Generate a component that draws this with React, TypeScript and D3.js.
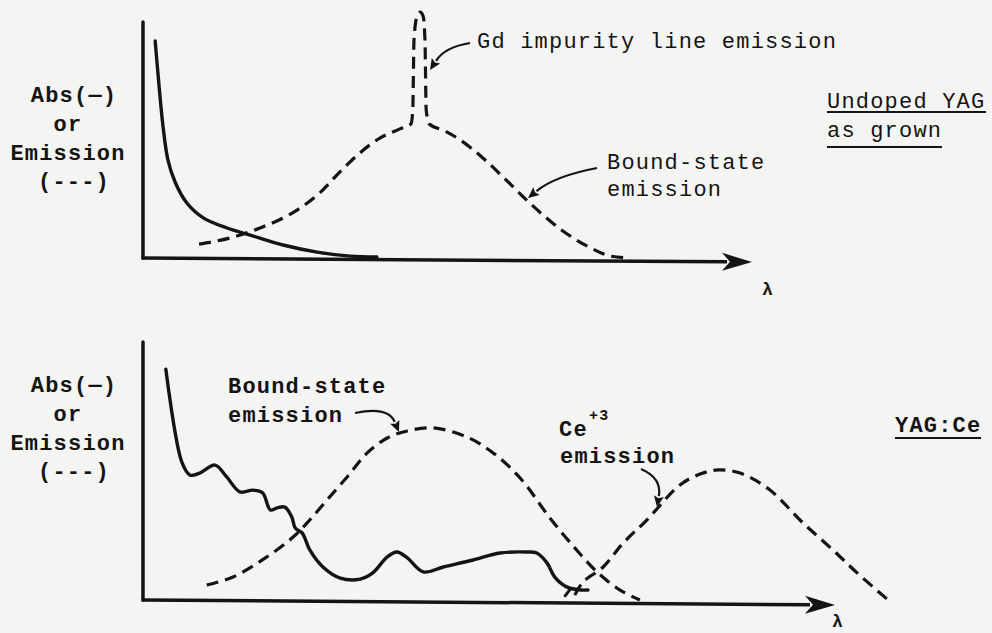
import * as d3 from "d3";

// Schematic spectra, arbitrary units: x = wavelength (0..100 along the axis), y = intensity (0..100)

// Undoped YAG, as grown
const topAbs: [number, number][] = [
  [2, 92], [2.6, 74], [3.3, 55.5], [4.1, 41.5], [5.3, 32], [7.2, 23.3], [9.9, 17],
  [13.8, 12.7], [17.6, 9.7], [23, 5.5], [28.6, 2.5], [34, 0.8], [38.4, 0.4],
];
const topEmission: [number, number][] = [
  [9.2, 5.9], [14.3, 8.5], [19.2, 12.7], [25.3, 20.3], [29, 27.5], [32.3, 36.4], [35.6, 44.5],
  [38.9, 50.8], [42.2, 54.7], [44, 56.8], [44.3, 62.7], [44.5, 92.4], [45, 102.5], [45.5, 104.2],
  [46, 102.5], [46.3, 92.4], [46.5, 62.7], [47, 56.8], [49.6, 53.8], [52.1, 50], [55.8, 42.4],
  [59.6, 33.1], [63.5, 23.3], [68.5, 12.3], [73.2, 4.7], [76.8, 0.8], [80, 0],
];

// YAG:Ce
const botAbs: [number, number][] = [
  [3.3, 89.5], [5.6, 53.5], [6.8, 48.4], [8.2, 49.2], [10.4, 52.3], [12.1, 47.7], [14, 41.9],
  [15.9, 42.6], [17.3, 41.5], [18.4, 34.9], [19.4, 35.7], [20.5, 36], [21.5, 32.2], [22, 27.9],
  [23, 26], [24.1, 19.4], [26, 12.8], [28.5, 8.5], [31.4, 8.1], [33.2, 10.5], [35.3, 16.7],
  [36.7, 18.6], [38.2, 16.3], [40.5, 10.9], [43.4, 12.8], [47.7, 15.5], [51.6, 18.2],
  [55.5, 18.6], [56.9, 18.2], [58.4, 14.3], [59.5, 8.9], [61.3, 5], [63.2, 3.9], [64.3, 3.9],
];
const botAbsHook: [number, number][] = [[61.8, 4.4], [61.0, 1.6]];
const botBound: [number, number][] = [
  [9.2, 5.8], [13, 8.9], [17.9, 16.7], [21.7, 24.4], [24.1, 31], [26.6, 38.8], [29.5, 47.7],
  [32.4, 57], [35.3, 62.8], [38.2, 65.5], [41.9, 66.7], [46.8, 63.2], [50.6, 57], [54.5, 47.3],
  [58.8, 31.8], [62.4, 20.2], [65.6, 10.9], [68.9, 3.9], [71.8, 0],
];
const botCe: [number, number][] = [
  [62.4, 1.9], [63.6, 7], [66.5, 12.8], [69.4, 22.1], [72.8, 31], [77.6, 44.6], [80.5, 48.8],
  [83.1, 50.4], [86.3, 49.2], [90.6, 42.6], [95.4, 29.8], [99.7, 19.4], [103.2, 10.5], [107.5, 0.4],
];

const W = 992;
const H = 633;
const INK = "#141414";
const MONO = "'Liberation Mono', 'DejaVu Sans Mono', monospace";

const xTop = d3.scaleLinear().domain([0, 100]).range([143, 752]);
const yTop = d3.scaleLinear().domain([0, 100]).range([258, 22]);
const xBot = d3.scaleLinear().domain([0, 100]).range([143, 835]);
const yBot = d3.scaleLinear().domain([0, 100]).range([600, 342]);

function Label({ x, y, children, anchor = "start", bold = false, size = 22 }: any) {
  return (
    <text x={x} y={y} textAnchor={anchor} dominantBaseline="central" fontFamily={MONO}
      fontSize={size} fontWeight={bold ? "bold" : "normal"} letterSpacing={1.2} fill={INK}>
      {children}
    </text>
  );
}

// curved pointer with a filled head, direction taken from control point -> tip
function Pointer({ from, ctrl, to }: { from: number[]; ctrl: number[]; to: number[] }) {
  const ang = Math.atan2(to[1] - ctrl[1], to[0] - ctrl[0]);
  const L = 11, Wd = 5;
  const bx = to[0] - L * Math.cos(ang), by = to[1] - L * Math.sin(ang);
  const px = -Math.sin(ang) * Wd, py = Math.cos(ang) * Wd;
  return (
    <g>
      <path d={`M${from[0]},${from[1]} Q${ctrl[0]},${ctrl[1]} ${bx},${by}`} fill="none" stroke={INK} strokeWidth={2.2} />
      <path d={`M${to[0]},${to[1]} L${bx + px},${by + py} L${bx + 2 * Math.cos(ang)},${by + 2 * Math.sin(ang)} L${bx - px},${by - py} Z`} fill={INK} />
    </g>
  );
}

function AxisArrow({ x0, y0, x1, y1 }: { x0: number; y0: number; x1: number; y1: number }) {
  const ang = Math.atan2(y1 - y0, x1 - x0);
  const L = 30, Wd = 9;
  const bx = x1 - L * Math.cos(ang), by = y1 - L * Math.sin(ang);
  const px = -Math.sin(ang) * Wd, py = Math.cos(ang) * Wd;
  return (
    <g>
      <line x1={x0} y1={y0} x2={bx + 5} y2={by} stroke={INK} strokeWidth={3.5} />
      <path d={`M${x1},${y1} L${bx + px},${by + py} L${bx + 8 * Math.cos(ang)},${by + 8 * Math.sin(ang)} L${bx - px},${by - py} Z`} fill={INK} />
    </g>
  );
}

function YLabel({ cy }: { cy: number }) {
  return (
    <g>
      <Label x={74} y={cy} anchor="middle" bold>Abs(—)</Label>
      <Label x={68} y={cy + 29} anchor="middle" bold>or</Label>
      <Label x={68} y={cy + 58} anchor="middle" bold>Emission</Label>
      <Label x={74} y={cy + 86} anchor="middle" bold>(---)</Label>
    </g>
  );
}

export default function App() {
  const lineTop = d3.line<[number, number]>().x(d => xTop(d[0])).y(d => yTop(d[1]));
  const lineBot = d3.line<[number, number]>().x(d => xBot(d[0])).y(d => yBot(d[1]));
  const smooth = d3.curveCatmullRom.alpha(0.5);
  const dash = "12 7";

  return (
    <div style={{ position: "fixed", inset: 0, background: "#f4f4f2" }}>
      <svg width={W} height={H} style={{ display: "block" }}>
        <rect width={W} height={H} fill="#f4f4f2" />

        {/* ---------- top panel ---------- */}
        <line x1={xTop(0)} y1={yTop(0)} x2={xTop(0)} y2={yTop(100)} stroke={INK} strokeWidth={3.5} strokeLinecap="round" />
        <AxisArrow x0={xTop(0) - 1.5} y0={yTop(0)} x1={xTop(100)} y1={yTop(0) + 4} />
        <path d={lineTop.curve(smooth)(topAbs) ?? ""} fill="none" stroke={INK} strokeWidth={3.4} strokeLinecap="round" />
        <path d={lineTop.curve(d3.curveMonotoneX)(topEmission) ?? ""} fill="none" stroke={INK} strokeWidth={3.2} strokeDasharray={dash} />

        <YLabel cy={96} />
        <Label x={477} y={42}>Gd impurity line emission</Label>
        <Pointer from={[470, 43]} ctrl={[445, 47]} to={[430, 70]} />
        <Label x={607} y={163}>Bound-state</Label>
        <Label x={607} y={190}>emission</Label>
        <Pointer from={[597, 168]} ctrl={[555, 176]} to={[528, 198]} />
        <Label x={827} y={102}>Undoped YAG</Label>
        <line x1={827} x2={986} y1={112} y2={112} stroke={INK} strokeWidth={2} />
        <Label x={827} y={131}>as grown</Label>
        <line x1={827} x2={942} y1={147} y2={147} stroke={INK} strokeWidth={2} />
        <Label x={768} y={290} anchor="middle" size={18} bold>λ</Label>

        {/* ---------- bottom panel ---------- */}
        <line x1={xBot(0)} y1={yBot(0)} x2={xBot(0)} y2={yBot(100)} stroke={INK} strokeWidth={3.5} strokeLinecap="round" />
        <AxisArrow x0={xBot(0) - 1.5} y0={yBot(0)} x1={xBot(100)} y1={yBot(0) + 5} />
        <path d={lineBot.curve(smooth)(botAbs) ?? ""} fill="none" stroke={INK} strokeWidth={3.4} strokeLinecap="round" />
        <path d={lineBot.curve(d3.curveLinear)(botAbsHook) ?? ""} fill="none" stroke={INK} strokeWidth={3} strokeLinecap="round" />
        <path d={lineBot.curve(smooth)(botBound) ?? ""} fill="none" stroke={INK} strokeWidth={3.2} strokeDasharray={dash} />
        <path d={lineBot.curve(smooth)(botCe) ?? ""} fill="none" stroke={INK} strokeWidth={3.2} strokeDasharray={dash} />

        <YLabel cy={386} />
        <Label x={228} y={387} bold>Bound-state</Label>
        <Label x={228} y={416} bold>emission</Label>
        <Pointer from={[355, 413]} ctrl={[388, 406]} to={[399, 432]} />
        <Label x={559} y={430} bold>Ce</Label>
        <Label x={589} y={416} size={15} bold>+3</Label>
        <Label x={560} y={457} bold>emission</Label>
        <Pointer from={[641, 469]} ctrl={[662, 478]} to={[657, 507]} />
        <Label x={895} y={426} bold>YAG:Ce</Label>
        <line x1={895} x2={981} y1={438} y2={438} stroke={INK} strokeWidth={2} />
        <Label x={838} y={622} anchor="middle" size={18} bold>λ</Label>
      </svg>
    </div>
  );
}
